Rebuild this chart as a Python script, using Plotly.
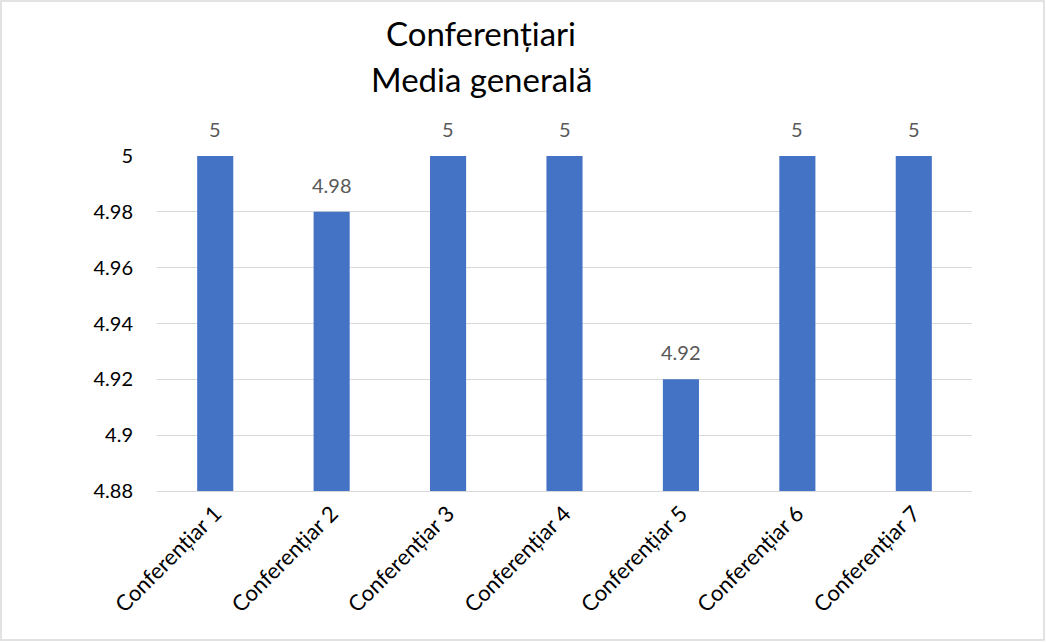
import plotly.graph_objects as go

categories = ["Conferențiar 1", "Conferențiar 2", "Conferențiar 3", "Conferențiar 4",
              "Conferențiar 5", "Conferențiar 6", "Conferențiar 7"]
values = [5, 4.98, 5, 5, 4.92, 5, 5]
value_labels = ["5", "4.98", "5", "5", "4.92", "5", "5"]
y_ticks = [4.88, 4.9, 4.92, 4.94, 4.96, 4.98, 5]
y_tick_labels = ["4.88", "4.9", "4.92", "4.94", "4.96", "4.98", "5"]
title_lines = ["Conferențiari", "Media generală"]

W, H = 1046, 642
L, R, T, B = 157, 74, 156, 151
pw, ph = W - L - R, H - T - B

FONT = "Lato, Open Sans, sans-serif"

fig = go.Figure()
fig.add_trace(go.Bar(
    x=categories, y=values, marker=dict(color="#4472C4", line=dict(width=0)),
    showlegend=False, hoverinfo="skip",
))


def px_x(p):
    return (p - L) / pw


def px_y(p):
    return (H - B - p) / ph


annotations = []
for txt, yc in zip(title_lines, [33, 79]):
    annotations.append(dict(
        text=txt, xref="paper", yref="paper", x=px_x(481), y=px_y(yc),
        xanchor="center", yanchor="middle", showarrow=False,
        font=dict(family=FONT, size=33, color="#000000"),
    ))
for cat, val, lab in zip(categories, values, value_labels):
    annotations.append(dict(
        text=lab, xref="x", yref="y", x=cat, y=val, yshift=27,
        xanchor="center", yanchor="middle", showarrow=False,
        font=dict(family=FONT, size=20, color="#595959"),
    ))

fig.update_layout(
    width=W, height=H,
    margin=dict(l=L, r=R, t=T, b=B, pad=0),
    paper_bgcolor="white", plot_bgcolor="white",
    bargap=0.69,
    annotations=annotations,
    shapes=[dict(type="rect", xref="paper", yref="paper",
                 x0=px_x(1), x1=px_x(W - 2), y0=px_y(H - 2), y1=px_y(1),
                 line=dict(color="#D9D9D9", width=1.5))],
    xaxis=dict(
        tickangle=-45, tickfont=dict(family=FONT, size=22, color="#000000"),
        showline=True, linecolor="#D9D9D9", linewidth=1, ticks="", showgrid=False,
    ),
    yaxis=dict(
        range=[4.88, 5], tickvals=y_ticks, ticktext=y_tick_labels,
        tickfont=dict(family=FONT, size=20, color="#000000"),
        showgrid=True, gridcolor="#D9D9D9", gridwidth=1, zeroline=False,
        ticks="", ticklabelstandoff=23,
    ),
)

fig.write_html("out.html", config={"displayModeBar": False},
               post_script="document.body.style.margin='0';")
